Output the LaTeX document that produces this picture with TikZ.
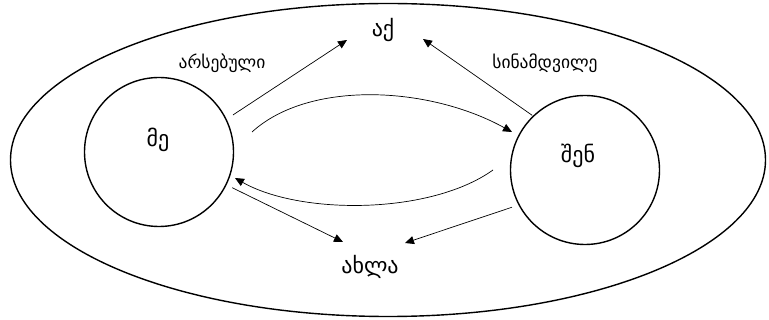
\documentclass[tikz,border=0pt]{standalone}
\usepackage{fontspec}
\newfontfamily\geo{DejaVu Sans}
\usetikzlibrary{arrows.meta,calc,shapes.geometric}
\begin{document}
\begin{tikzpicture}[x=1pt,y=-1pt,
  every node/.style={font=\geo},
  bigtxt/.style={font=\geo\fontsize{22}{26}\selectfont, inner sep=0pt},
  smalltxt/.style={font=\geo\fontsize{17.5}{20}\selectfont, inner sep=0pt},
  person/.style={circle, draw, line width=1.4pt, minimum size=149pt, inner sep=0pt},
  conn/.style={line width=0.7pt, -{Triangle[length=9pt,width=8pt]}}
]
\useasboundingbox (0,0) rectangle (769,320);
\node[draw, ellipse, line width=1.4pt, minimum width=755pt, minimum height=313pt, inner sep=0pt] (world) at (388,160) {};
\node[person] (me) at (159,152) {};
\node[person] (you) at (585,170) {};
\node[bigtxt] (metxt) at (158,140) {მე};
\node[bigtxt] (youtxt) at (578,156) {შენ};
\node[bigtxt] (aq) at (383,30) {აქ};
\node[bigtxt] (axla) at (370,267) {ახლა};
\node[smalltxt] (arseb) at (222,63) {არსებული};
\node[smalltxt] (sinam) at (545,63) {სინამდვილე};
% straight arrows
\draw[conn] ($(me)+(-26.6:82.7)$) -- ($(aq)+(-36,10)$);
\draw[conn] ($(you)+(-134:76)$) -- ($(aq)+(40,9)$);
\draw[conn] ($(me)+(26:81.4)$) -- ($(axla)+(-27,-25)$);
\draw[conn] ($(you)+(153:82)$) -- ($(axla)+(35,-24)$);
% curved arrows
\draw[conn] ($(me)+(93,-20)$) .. controls ($(me)+(150,-72)$) and ($(me)+(270,-66)$) .. ($(you)+(-73,-38)$);
\draw[conn] ($(you)+(-92,0)$) .. controls ($(you)+(-155,45)$) and ($(you)+(-285,45)$) .. ($(me)+(76,26)$);
\end{tikzpicture}
\end{document}
